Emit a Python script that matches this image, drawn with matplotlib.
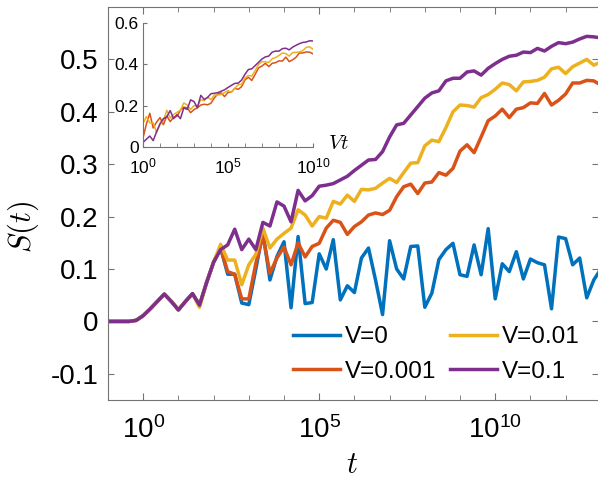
import numpy as np
import matplotlib
matplotlib.use('Agg')
import matplotlib.pyplot as plt
from matplotlib.ticker import FixedLocator, NullFormatter, FuncFormatter

plt.rcParams['font.family'] = ['Liberation Sans', 'DejaVu Sans']
plt.rcParams['mathtext.fontset'] = 'cm'
plt.rcParams['axes.unicode_minus'] = False

# time grid: 0.2 decades per sample, 10^-1 .. 10^13
log_t = np.round(np.arange(-1.0, 13.01, 0.2), 1)
t = 10.0 ** log_t

# common early part (k = 0..15)
early = [0, 0, 0, 0, 0.002, 0.011, 0.024, 0.038, 0.052, 0.038,
         0.022, 0.038, 0.053, 0.031, 0.074, 0.113]

s_v0 = early + [0.14,
                0.09, 0.09, 0.035, 0.032, 0.10, 0.171, 0.079, 0.124, 0.152, 0.026,
                0.162, 0.034, 0.036, 0.129, 0.10, 0.156, 0.041, 0.068, 0.055, 0.121,
                0.14, 0.079, 0.013, 0.154, 0.10, 0.081, 0.143, 0.144, 0.027, 0.054,
                0.118, 0.137, 0.149, 0.089, 0.086, 0.146, 0.089, 0.177, 0.043, 0.11,
                0.095, 0.133, 0.081, 0.119, 0.112, 0.108, 0.024, 0.161, 0.158, 0.108,
                0.121, 0.045, 0.079, 0.10]

s_v001 = early + [0.14,
                  0.095, 0.09, 0.043, 0.043, 0.111, 0.163, 0.092, 0.121, 0.142, 0.108,
                  0.150, 0.123, 0.143, 0.149, 0.178, 0.193, 0.189, 0.166, 0.181, 0.19,
                  0.203, 0.207, 0.204, 0.212, 0.238, 0.257, 0.262, 0.244, 0.264, 0.266,
                  0.284, 0.279, 0.292, 0.325, 0.337, 0.322, 0.352, 0.383, 0.392, 0.405,
                  0.389, 0.405, 0.408, 0.417, 0.416, 0.435, 0.413, 0.422, 0.434, 0.455,
                  0.455, 0.46, 0.459, 0.451]

s_v01 = early[:13] + [0.027, 0.074, 0.113, 0.147,
                      0.117, 0.117, 0.07, 0.108, 0.128, 0.178, 0.14, 0.157, 0.168, 0.178,
                      0.213, 0.203, 0.182, 0.2, 0.197, 0.229, 0.224, 0.241, 0.229, 0.252,
                      0.251, 0.254, 0.264, 0.273, 0.265, 0.284, 0.302, 0.303, 0.335, 0.346,
                      0.343, 0.37, 0.40, 0.413, 0.412, 0.409, 0.427, 0.433, 0.443, 0.455,
                      0.452, 0.44, 0.457, 0.458, 0.46, 0.466, 0.482, 0.485, 0.473, 0.486,
                      0.493, 0.5, 0.489, 0.495]

s_v1 = early + [0.137,
                0.146, 0.176, 0.137, 0.157, 0.137, 0.189, 0.182, 0.228, 0.22, 0.19,
                0.25, 0.23, 0.24, 0.258, 0.26, 0.263, 0.27, 0.277, 0.288, 0.298,
                0.308, 0.309, 0.324, 0.352, 0.375, 0.378, 0.394, 0.41, 0.426, 0.436,
                0.44, 0.459, 0.464, 0.464, 0.476, 0.478, 0.47, 0.483, 0.492, 0.50,
                0.506, 0.508, 0.514, 0.513, 0.521, 0.516, 0.525, 0.532, 0.53, 0.533,
                0.539, 0.544, 0.543, 0.541]

V_values = [0, 0.001, 0.01, 0.1]
labels = ['V=0', 'V=0.001', 'V=0.01', 'V=0.1']
colors = ['#0072BD', '#D95319', '#EDB120', '#7E2F8E']
series = [s_v0, s_v001, s_v01, s_v1]

axis_gray = '#737373'

fig = plt.figure(figsize=(5.98, 4.8), dpi=100)
ax = fig.add_axes([108/598, 80/480, 490/598, 393/480])

for V, s, c, lab in zip(V_values, series, colors, labels):
    ax.plot(t, s, color=c, lw=2.5, label=lab)

ax.set_xscale('log')
ax.set_xlim(10**-1.0, 10**12.92)
ax.set_ylim(-0.15, 0.6)
ax.xaxis.set_major_locator(FixedLocator([1, 1e5, 1e10]))
ax.xaxis.set_minor_locator(FixedLocator([10.0**n for n in range(-1, 14) if n % 5 != 0]))
ax.xaxis.set_minor_formatter(NullFormatter())
ax.set_yticks([-0.1, 0, 0.1, 0.2, 0.3, 0.4, 0.5])
ax.yaxis.set_major_formatter(FuncFormatter(lambda v, p: '%g' % round(v, 2)))
ax.tick_params(which='both', direction='in', top=True, right=True,
               color=axis_gray, labelsize=20)
ax.tick_params(axis='x', which='major', length=5, pad=12)
ax.tick_params(axis='x', which='minor', length=3.5)
ax.tick_params(axis='y', length=4, pad=7)
for side in ['left', 'bottom', 'top']:
    ax.spines[side].set_color(axis_gray)
ax.spines['right'].set_visible(False)

ax.set_xlabel(r'$t$', fontsize=22)
ax.xaxis.set_label_coords(0.498, -0.128)
ax.set_ylabel(r'$S(t)$', fontsize=22)
ax.yaxis.set_label_coords(-0.137, 0.44)

ax.legend(ncol=2, loc='center left', bbox_to_anchor=(293/598, 1 - 354.5/480),
          bbox_transform=fig.transFigure, frameon=False, fontsize=17.5,
          handlelength=1.95, handletextpad=0.2, columnspacing=0.55,
          labelspacing=0.53, borderpad=0, borderaxespad=0)

# inset: S vs V t
ax_in = fig.add_axes([143/598, 1 - 147/480, 170/598, 124/480])
for V, s, c in zip(V_values[1:], series[1:], colors[1:]):
    vt = V * t
    m = (vt >= 1 - 1e-9) & (vt <= 1e10 * (1 + 1e-9))
    ax_in.plot(vt[m], np.array(s)[m], color=c, lw=1.1)
ax_in.set_xscale('log')
ax_in.set_xlim(1, 1e10)
ax_in.set_ylim(0, 0.6)
ax_in.xaxis.set_major_locator(FixedLocator([1, 1e5, 1e10]))
ax_in.xaxis.set_minor_locator(FixedLocator([10.0**n for n in range(0, 11) if n % 5 != 0]))
ax_in.xaxis.set_minor_formatter(NullFormatter())
ax_in.set_yticks([0, 0.2, 0.4, 0.6])
ax_in.yaxis.set_major_formatter(FuncFormatter(lambda v, p: '%g' % round(v, 2)))
ax_in.tick_params(which='both', direction='in', color=axis_gray, labelsize=12.5,
                  length=3, pad=3)
ax_in.tick_params(axis='x', pad=7)
ax_in.spines['top'].set_visible(False)
ax_in.spines['right'].set_visible(False)
for side in ['left', 'bottom']:
    ax_in.spines[side].set_color(axis_gray)
ax_in.text(1.09, -0.02, r'$Vt$', transform=ax_in.transAxes, fontsize=15,
           ha='left', va='baseline')

fig.savefig('out.png', dpi=100)
